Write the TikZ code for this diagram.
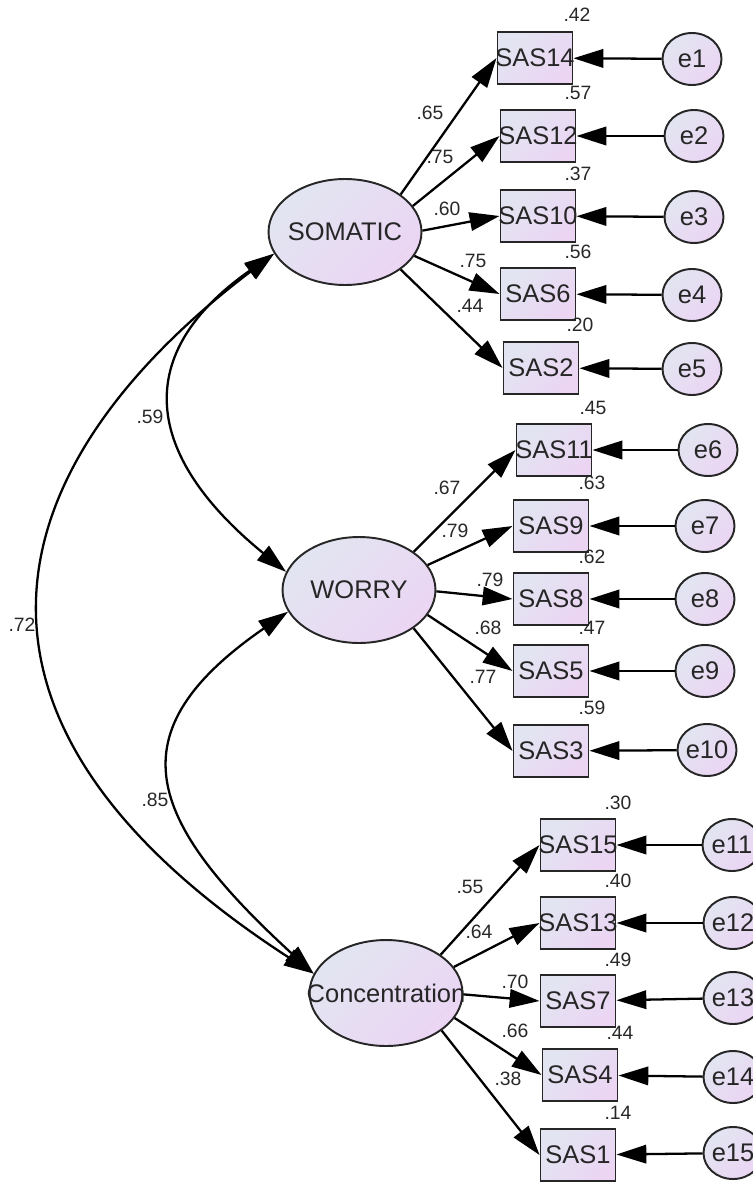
\documentclass[tikz,border=0pt]{standalone}
\usepackage{fontspec}
\setmainfont{Liberation Sans}
\usetikzlibrary{arrows.meta, shapes.geometric}

\definecolor{fillA}{RGB}{226,229,241}
\definecolor{fillB}{RGB}{235,213,243}
\definecolor{numgray}{RGB}{40,40,40}

\begin{document}
\begin{tikzpicture}[x=0.02cm, y=-0.02cm,
    shaded/.style={draw=black!85, line width=1.1pt, top color=fillA, bottom color=fillB, shading angle=45,
      font=\fontsize{14.5}{16}\selectfont, text=black!85, inner sep=0pt},
    latent/.style={shaded, ellipse, minimum width=3.06cm, minimum height=2.12cm},
    item/.style={shaded, rectangle, minimum width=1.5cm, minimum height=1.04cm},
    err/.style={shaded, ellipse, minimum width=1.18cm, minimum height=1.04cm},
    load/.style={line width=1.3pt, -{Triangle[length=17pt, width=10.5pt]}},
    cov/.style={line width=1.3pt, {Triangle[length=17pt, width=10.5pt]}-{Triangle[length=17pt, width=10.5pt]}},
    num/.style={font=\fontsize{11}{12}\selectfont, text=numgray, inner sep=0pt}]
\path[use as bounding box] (0,0) rectangle (753,1182);
\clip (0,0) rectangle (753,1182);

% latent factors
\node[latent] (som) at (345,232) {\makebox[0pt]{SOMATIC}};
\node[latent] (wor) at (359,590) {\makebox[0pt]{WORRY}};
\node[latent] (con) at (386,993) {\makebox[0pt]{Concentration}};

% items
\node[item] (sas14) at (535,58) {\makebox[0pt]{SAS14}};
\node[item] (sas12) at (538,136) {\makebox[0pt]{SAS12}};
\node[item] (sas10) at (538,216) {\makebox[0pt]{SAS10}};
\node[item] (sas6) at (538,294) {SAS6};
\node[item] (sas2) at (541,368) {SAS2};

\node[item] (sas11) at (554,450) {\makebox[0pt]{SAS11}};
\node[item] (sas9) at (551,526) {SAS9};
\node[item] (sas8) at (551,599) {SAS8};
\node[item] (sas5) at (551,671) {SAS5};
\node[item] (sas3) at (551,751) {SAS3};

\node[item] (sas15) at (578,845) {\makebox[0pt]{SAS15}};
\node[item] (sas13) at (578,923) {\makebox[0pt]{SAS13}};
\node[item] (sas7) at (578,1001) {SAS7};
\node[item] (sas4) at (580,1075) {SAS4};
\node[item] (sas1) at (578,1155) {SAS1};

% errors
\node[err] (e1) at (692,59) {e1};
\node[err] (e2) at (694,136) {e2};
\node[err] (e3) at (694,217) {e3};
\node[err] (e4) at (692,295) {e4};
\node[err] (e5) at (692,369) {e5};
\node[err] (e6) at (708,450) {e6};
\node[err] (e7) at (705,526) {e7};
\node[err] (e8) at (705,599) {e8};
\node[err] (e9) at (705,671) {e9};
\node[err] (e10) at (707,750) {\makebox[0pt]{e10}};
\node[err] (e11) at (732,845) {\makebox[0pt]{e11}};
\node[err] (e12) at (733,923) {\makebox[0pt]{e12}};
\node[err] (e13) at (733,998) {\makebox[0pt]{e13}};
\node[err] (e14) at (733,1077) {\makebox[0pt]{e14}};
\node[err] (e15) at (733,1153) {\makebox[0pt]{e15}};

% loadings
\draw[load] (som.34) -- (sas14.west);
\draw[load] (som.21) -- (sas12.west);
\draw[load] (som.1) -- (sas10.west);
\draw[load] (som.-19) -- (sas6.west);
\draw[load] (som.-34) -- (sas2.west);

\draw[load] (wor.35) -- (sas11.west);
\draw[load] (wor.20) -- (sas9.west);
\draw[load] (wor.-1) -- (sas8.west);
\draw[load] (wor.-20) -- (sas5.west);
\draw[load] (wor.-35) -- (sas3.west);

\draw[load] (con.35) -- (sas15.west);
\draw[load] (con.21) -- (sas13.west);
\draw[load] (con.-1) -- (sas7.west);
\draw[load] (con.-20) -- (sas4.west);
\draw[load] (con.-34) -- (sas1.west);

% error paths
\draw[load] (e1) -- (sas14);
\draw[load] (e2) -- (sas12);
\draw[load] (e3) -- (sas10);
\draw[load] (e4) -- (sas6);
\draw[load] (e5) -- (sas2);
\draw[load] (e6) -- (sas11);
\draw[load] (e7) -- (sas9);
\draw[load] (e8) -- (sas8);
\draw[load] (e9) -- (sas5);
\draw[load] (e10) -- (sas3);
\draw[load] (e11) -- (sas15);
\draw[load] (e12) -- (sas13);
\draw[load] (e13) -- (sas7);
\draw[load] (e14) -- (sas4);
\draw[load] (e15) -- (sas1);

% covariances
\draw[cov] (som.197) .. controls (132,353) and (142,454) .. (wor.166);
\draw[cov] (som.197) .. controls (-9,469) and (-75,722) .. (con.165);
\draw[cov] (wor.197) .. controls (114,732) and (145,819) .. (con.165);
\node[num] (c1) at (150,417) {.59};
\node[num] (c2) at (22,625) {.72};
\node[num] (c3) at (155,800) {.85};

% standardized loadings
\node[num] (l14) at (430,113) {.65};
\node[num] (l12) at (440,157) {.75};
\node[num] (l10) at (447,209) {.60};
\node[num] (l6) at (473,261) {.75};
\node[num] (l2) at (470,306) {.44};
\node[num] (l11) at (447,488) {.67};
\node[num] (l9) at (455,531) {.79};
\node[num] (l8) at (490,580) {.79};
\node[num] (l5) at (488,628) {.68};
\node[num] (l3) at (483,677) {.77};
\node[num] (l15) at (470,887) {.55};
\node[num] (l13) at (479,932) {.64};
\node[num] (l7) at (515,982) {.70};
\node[num] (l4) at (515,1031) {.66};
\node[num] (l1) at (508,1079) {.38};

% squared multiple correlations
\node[num] (r14) at (577,15) {.42};
\node[num] (r12) at (578,93) {.57};
\node[num] (r10) at (578,174) {.37};
\node[num] (r6) at (578,252) {.56};
\node[num] (r2) at (580,325) {.20};
\node[num] (r11) at (593,408) {.45};
\node[num] (r9) at (592,483) {.63};
\node[num] (r8) at (592,557) {.62};
\node[num] (r5) at (592,628) {.47};
\node[num] (r3) at (592,708) {.59};
\node[num] (r15) at (618,803) {.30};
\node[num] (r13) at (618,881) {.40};
\node[num] (r7) at (618,960) {.49};
\node[num] (r4) at (620,1033) {.44};
\node[num] (r1) at (618,1113) {.14};

\end{tikzpicture}
\end{document}
